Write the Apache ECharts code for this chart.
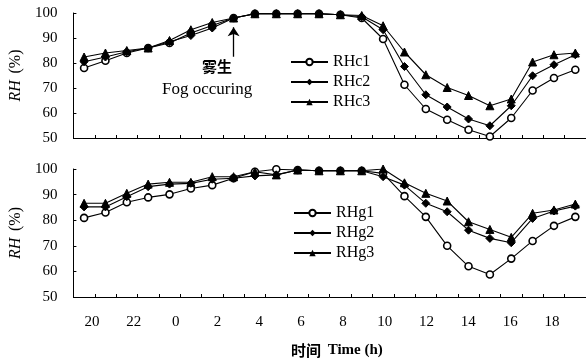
<!DOCTYPE html>
<html>
<head>
<meta charset="utf-8">
<script src="https://cdn.jsdelivr.net/npm/echarts@6/dist/echarts.min.js"></script>
<style>html,body{margin:0;padding:0;background:#fff;}#c{width:586px;height:363px;}</style>
</head>
<body>
<div id="c"></div>
<script>
// hourly categories (19h .. 18h next day)
const hours = ['19','20','21','22','23','0','1','2','3','4','5','6','7','8','9','10','11','12','13','14','15','16','17','18'];
const xTickLabels = ['20','22','0','2','4','6','8','10','12','14','16','18'];
const yTicks = [50, 60, 70, 80, 90, 100];

const RHc1 = [78, 80.9, 84, 86, 88, 92, 95, 98, 99.7, 99.7, 99.7, 99.7, 99.3, 98, 89.6, 71.3, 61.6, 57.3, 53.3, 50.6, 58, 69, 74, 77.3];
const RHc2 = [80.5, 82.4, 84.5, 86, 88.5, 91, 94, 98, 99.7, 99.7, 99.7, 99.7, 99.3, 98.5, 93.3, 78.6, 67.3, 62.4, 57.6, 54.9, 62.9, 74.9, 79.3, 83.3];
const RHc3 = [82.4, 84, 85, 86, 89, 93.3, 96.2, 98, 99.7, 99.7, 99.7, 99.7, 99.3, 99, 94.9, 84.4, 75.3, 70.2, 67, 62.9, 65.6, 80.4, 83.3, 84];

const RHg1 = [80.9, 83, 87, 88.9, 90.1, 92.4, 93.7, 96.4, 98.9, 99.9, 99.6, 99.3, 99.3, 99.3, 98.3, 89.4, 81.3, 70, 62, 58.8, 65, 71.9, 77.8, 81.3];
const RHg2 = [85.2, 85.2, 89.2, 93.1, 94.1, 94.4, 96, 96.4, 97.3, 97.7, 99.6, 99.3, 99.3, 99.3, 97, 93.7, 86.6, 83.3, 76.1, 72.9, 71.2, 80.7, 83.6, 85.5];
const RHg3 = [86.6, 86.6, 90.5, 94.1, 94.8, 94.8, 97, 97, 98.9, 97.7, 99.6, 99.3, 99.3, 99.3, 100, 94.6, 90.5, 87.5, 79.4, 76.4, 73.3, 82.7, 84, 86.3];

const fogHour = '2'; // arrow position (category)
const serif = 'Liberation Serif';

const chart = echarts.init(document.getElementById('c'), null, {renderer: 'canvas'});

function dataX(gi) {
  return {
    type: 'category', gridIndex: gi, data: hours, boundaryGap: true,
    axisLine: {lineStyle: {color: '#000', width: 1}},
    axisTick: {show: true, inside: true, length: 3, lineStyle: {color: '#000'}},
    axisLabel: {show: false}, splitLine: {show: false}
  };
}
function yAx(gi) {
  return {
    type: 'value', gridIndex: gi, min: yTicks[0], max: yTicks[yTicks.length - 1], interval: 10,
    axisLine: {show: true, lineStyle: {color: '#000', width: 1}},
    axisTick: {show: true, inside: true, length: 3, lineStyle: {color: '#000'}},
    axisLabel: {color: '#000', fontFamily: serif, fontSize: 15, margin: 16},
    splitLine: {show: false},
    name: '{i|RH}  {n|(%)}', nameLocation: 'middle', nameRotate: 90, nameGap: 47,
    nameTextStyle: {
      rich: {
        i: {fontFamily: serif, fontStyle: 'italic', fontSize: 16, color: '#000'},
        n: {fontFamily: serif, fontSize: 16, color: '#000'}
      }
    }
  };
}

function mkSeries(name, data, xi, yi, kind) {
  const s = {
    name: name, type: 'line', xAxisIndex: xi, yAxisIndex: yi, data: data,
    lineStyle: {color: '#000', width: 1.1},
    itemStyle: {color: '#000', borderColor: '#000'},
    symbolSize: 7, showSymbol: true, animation: false, z: 3
  };
  if (kind === 0) {
    s.symbol = 'circle';
    s.itemStyle = {color: '#fff', borderColor: '#000', borderWidth: 1.6};
    s.symbolSize = 7;
  } else if (kind === 1) {
    s.symbol = 'diamond';
    s.symbolSize = 8;
  } else {
    s.symbol = 'triangle';
    s.symbolSize = 8;
  }
  return s;
}

const sC1 = mkSeries('RHc1', RHc1, 0, 0, 0);
const sC2 = mkSeries('RHc2', RHc2, 0, 0, 1);
const sC3 = mkSeries('RHc3', RHc3, 0, 0, 2);
const sG1 = mkSeries('RHg1', RHg1, 1, 1, 0);
const sG2 = mkSeries('RHg2', RHg2, 1, 1, 1);
const sG3 = mkSeries('RHg3', RHg3, 1, 1, 2);

sC1.markLine = {
  silent: true, animation: false,
  symbol: ['none', 'arrow'], symbolSize: 9,
  label: {show: false},
  lineStyle: {color: '#000', width: 1.3, type: 'solid'},
  data: [[{coord: [fogHour, 82.5]}, {coord: [fogHour, 94.3]}]]
};

const legendText = {fontFamily: serif, fontSize: 16, color: '#000', lineHeight: 14};

const option = {
  backgroundColor: '#fff',
  animation: false,
  grid: [
    {left: 71, right: 0, top: 13, height: 125},
    {left: 71, right: 0, top: 169, height: 128},
    {left: 92, right: 34, top: 169, height: 128}
  ],
  xAxis: [
    dataX(0),
    dataX(1),
    {
      type: 'value', gridIndex: 2, min: 0, max: 22, interval: 2,
      axisLine: {show: false}, axisTick: {show: false}, splitLine: {show: false},
      axisLabel: {color: '#000', fontFamily: serif, fontSize: 15, margin: 18,
        formatter: function (v) { return xTickLabels[Math.round(v / 2)]; }}
    }
  ],
  yAxis: [
    yAx(0),
    yAx(1),
    {type: 'value', gridIndex: 2, show: false, min: 0, max: 1}
  ],
  legend: [
    {
      orient: 'vertical', left: 285, top: 49, padding: 5, itemWidth: 37, itemHeight: 8, itemGap: 4,
      data: ['RHc1', 'RHc2', 'RHc3'], textStyle: legendText
    },
    {
      orient: 'vertical', left: 288, top: 200, padding: 5, itemWidth: 37, itemHeight: 8, itemGap: 4,
      data: ['RHg1', 'RHg2', 'RHg3'], textStyle: legendText
    }
  ],
  graphic: [
    {type: 'text', left: 202, top: 59, style: {text: '雾生', font: 'bold 15px "Noto Sans CJK SC"', fill: '#000'}},
    {type: 'text', left: 162, top: 81, style: {text: 'Fog occuring', font: '17px "Liberation Serif"', fill: '#000'}},
    {type: 'text', left: 291, top: 343, style: {
      rich: {
        a: {font: 'bold 15px "Noto Sans CJK SC"', fill: '#000'},
        b: {font: 'bold 15px "Liberation Serif"', fill: '#000'}
      },
      text: '{a|时间}  {b|Time (h)}'
    }}
  ],
  series: [sC1, sC2, sC3, sG1, sG2, sG3]
};
chart.setOption(option);
</script>
</body>
</html>
